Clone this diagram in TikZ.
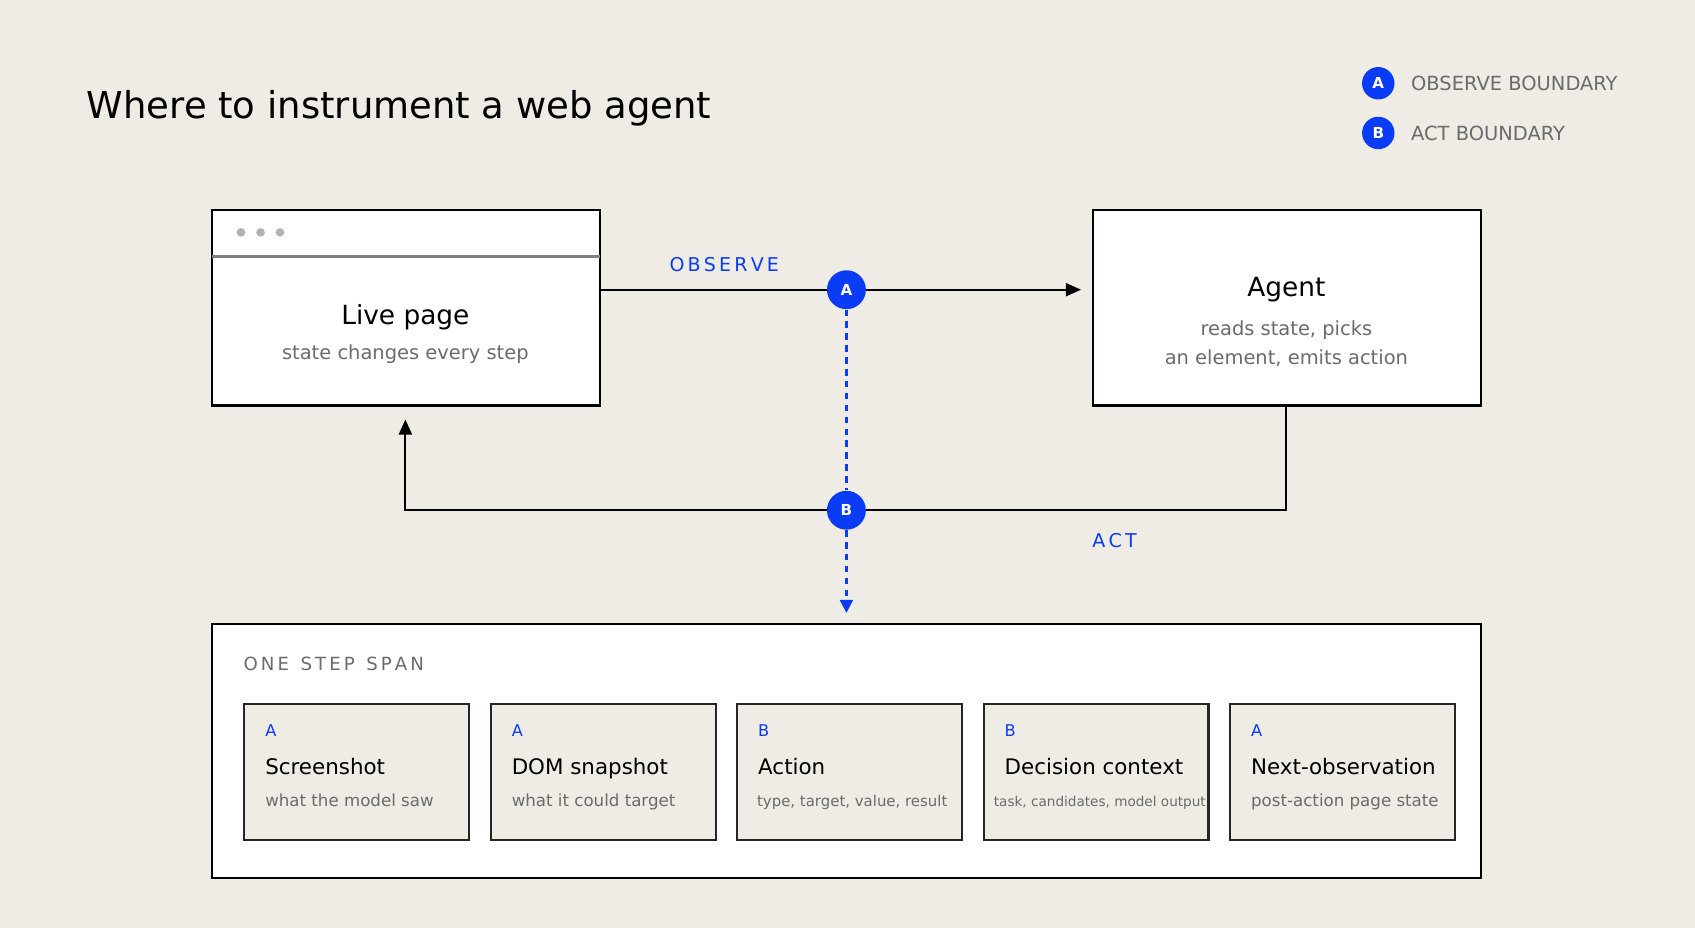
\documentclass[tikz,border=0pt]{standalone}
\usepackage{fontspec}
\setmainfont{DejaVu Sans}
\usetikzlibrary{arrows.meta}
\definecolor{bg}{HTML}{EFEBE5}
\definecolor{bl}{HTML}{0A3CF5}
\definecolor{gr}{HTML}{6B6B6B}
\begin{document}
\begin{tikzpicture}[x=0.5pt,y=-0.5pt,
  box/.style={draw=black,line width=1.1pt,fill=white},
  card/.style={draw=black!85,line width=1pt,fill=bg,minimum width=104pt,minimum height=63pt,anchor=north west},
  badge/.style={circle,fill=bl,text=white,font=\bfseries\fontsize{7}{8}\selectfont,inner sep=0pt,minimum size=18pt},
  lbadge/.style={badge,minimum size=15pt},
  arr/.style={-{Triangle[length=7pt,width=6pt]},line width=1pt},
  bdash/.style={bl,line width=1pt,dash pattern=on 3pt off 2.5pt},
  sub/.style={text=gr,font=\fontsize{9}{10}\selectfont},
  ctitle/.style={inner sep=0pt,font=\fontsize{9.9}{12}\selectfont,anchor=base west},
  csub/.style={inner sep=0pt,text=gr,font=\fontsize{7.7}{9}\selectfont,anchor=base west},
  clet/.style={inner sep=0pt,text=bl,font=\fontsize{7.5}{9}\selectfont,anchor=base west}]
\fill[bg] (0,0) rectangle (1568,858);
\useasboundingbox (0,0) rectangle (1568,858);
\node[inner sep=0pt,anchor=base west,font=\fontsize{17.1}{20}\selectfont] (title) at (80,110) {Where to instrument a web agent};
\node[lbadge] (la) at (1275,77) {A};
\node[lbadge] (lb) at (1275,123) {B};
\node[inner sep=0pt,anchor=west,text=gr,font=\fontsize{9}{11}\selectfont] (lat) at (1305,77) {OBSERVE BOUNDARY};
\node[inner sep=0pt,anchor=west,text=gr,font=\fontsize{9}{11}\selectfont] (lbt) at (1305,123) {ACT BOUNDARY};
% live page
\draw[box] (196,194) rectangle (555,375);
\draw[gray,line width=1.2pt] (196,237) -- (555,237);
\foreach \x in {223,241,259} \fill[black!30] (\x,215) circle (4);
\node[font=\fontsize{12.2}{14}\selectfont] (lp) at (375,293) {Live page};
\node[sub] (lps) at (375,328) {state changes every step};
% agent
\draw[box] (1011,194) rectangle (1370,375);
\coordinate (agbot) at (1190,375);
\node[font=\fontsize{12.2}{14}\selectfont] (ag) at (1190,268) {Agent};
\node[sub,align=center] (ags) at (1190,318) {reads state, picks\\[3pt]an element, emits action};
% observe
\coordinate (lpr) at (555,268);
\coordinate (obend) at (1000,268);
\node[badge] (A) at (783,268) {A};
\draw[line width=1pt] (lpr) -- (A);
\draw[arr] (A) -- (obend);
\node[text=bl,font=\fontsize{8.8}{11}\selectfont] (obs) at (670,245) {O\,B\,S\,E\,R\,V\,E};
% act
\node[badge] (B) at (783,472) {B};
\coordinate (lpbot) at (375,388);
\draw[line width=1pt] (agbot) |- (B);
\draw[arr] (B) -| (lpbot);
\node[text=bl,font=\fontsize{8.8}{11}\selectfont] (act) at (1031,500) {A\,C\,T};
\coordinate (dend) at (783,567);
\draw[bdash] (A) -- (B);
\draw[bdash,-{Triangle[length=6pt,width=6pt]}] (B) -- (dend);
% span
\draw[box] (196,577) rectangle (1370,812);
\node[inner sep=0pt,anchor=base west,text=gr,font=\fontsize{8.4}{11}\selectfont] (sp) at (225,620) {O\,N\,E\ \ S\,T\,E\,P\ \ S\,P\,A\,N};
\foreach \i/\x/\l/\t in {1/225/A/Screenshot,2/453/A/DOM snapshot,3/681/B/Action,4/909/B/Decision context,5/1137/A/Next-observation}{
  \node[card] (c\i) at (\x,650) {};
  \node[clet] (cl\i) at (\x+20,681) {\l};
  \node[ctitle] (ct\i) at (\x+20,716) {\t};
}
\node[csub] (cs1) at (245,746) {what the model saw};
\node[csub] (cs2) at (473,746) {what it could target};
\node[csub] (cs3) at (700,746) {\resizebox{88pt}{!}{type, target, value, result}};
\node[csub] (cs4) at (919,746) {\resizebox{98pt}{!}{task, candidates, model output}};
\node[csub] (cs5) at (1157,746) {post-action page state};
\end{tikzpicture}
\end{document}
